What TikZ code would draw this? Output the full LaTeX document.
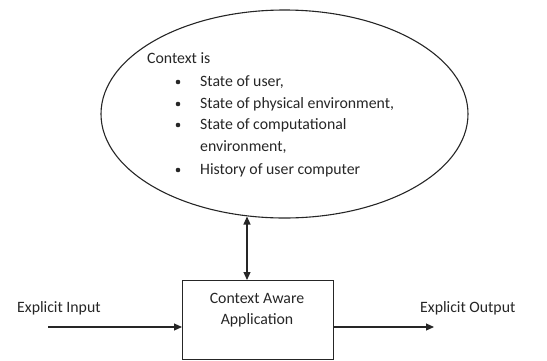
\documentclass[tikz,border=0pt]{standalone}
\usepackage{fontspec}
\setmainfont{Carlito}
\usetikzlibrary{arrows.meta,shapes.geometric}
\begin{document}
\begin{tikzpicture}[x=1pt,y=-1pt,
  txt/.style={font=\fontsize{15.8}{18}\selectfont, text=black!85, inner sep=0pt},
  conn/.style={draw=black!85, line width=1.1pt, -{Triangle[length=8pt,width=7pt]}},
  frame/.style={draw=black!85, line width=1.1pt}]
\useasboundingbox (0,0) rectangle (547,360);
\clip (0,0) rectangle (547,360);
% ellipse
\node[frame, ellipse, minimum width=367, minimum height=208, inner sep=0pt] (ctx) at (284.5,114) {};
\node[txt, anchor=west] (t0) at (147,58) {Context is};
\foreach \yy/\tt/\nm in {82/{State of user,}/a, 104/{State of physical environment,}/b, 125/{State of computational}/c, 170/{History of user computer}/d}{
  \node[txt, anchor=west] (b\nm) at (200,\yy) {\tt};
  \fill[black!85] (178,\yy) circle (2.3pt);
}
\node[txt, anchor=west] (bc2) at (200,147) {environment,};
% box
\node[frame, anchor=north west, minimum width=151, minimum height=79, inner sep=0pt] (app) at (182,280) {};
\node[txt, align=center] (applbl) at (257,310) {Context Aware\\[3pt]Application};
% arrows
\coordinate (top) at (247,216.5);
\draw[conn, {Triangle[length=8pt,width=7pt]}-{Triangle[length=8pt,width=7pt]}] (top) -- (app.north -| top);
\coordinate (inS) at (48,327);
\draw[conn] (inS) -- (inS -| app.west);
\coordinate (outE) at (434,327);
\draw[conn] (app.east |- outE) -- (outE);
\node[txt, anchor=west] (inl) at (17,308) {Explicit Input};
\node[txt, anchor=west] (outl) at (420,308) {Explicit Output};
\end{tikzpicture}
\end{document}
